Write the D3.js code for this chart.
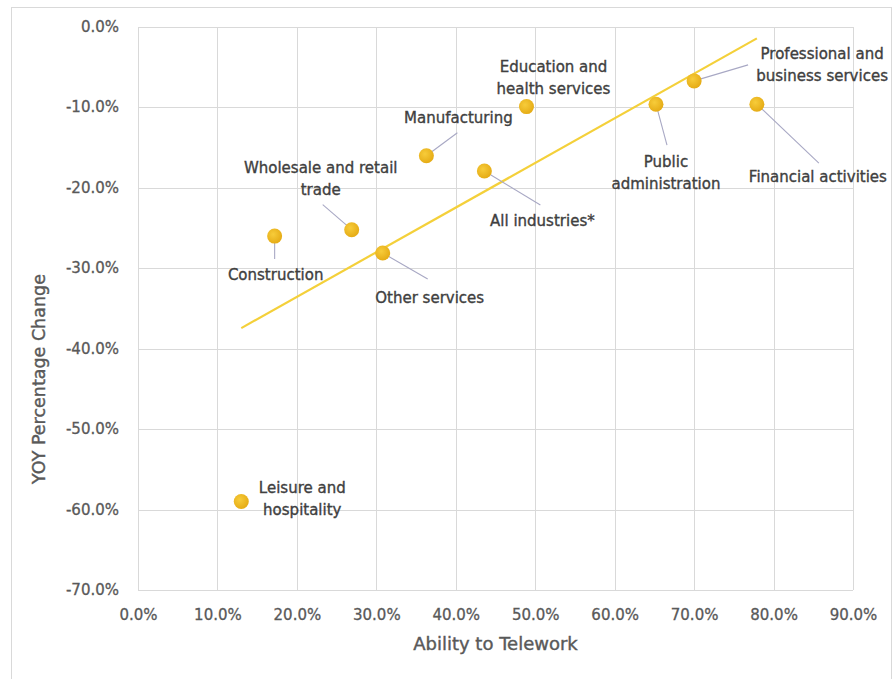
<!DOCTYPE html>
<html>
<head>
<meta charset="utf-8">
<script src="https://cdn.jsdelivr.net/npm/d3@7"></script>
<style>
  html, body { margin: 0; padding: 0; background: #ffffff; }
  svg { display: block; }
  text { font-family: "DejaVu Sans", sans-serif; }
</style>
</head>
<body>
<svg id="chart" width="895" height="679"></svg>
<script>
// Industry data: share of jobs that can be done remotely vs. year-over-year employment change
const industries = [
  "Leisure and hospitality",
  "Construction",
  "Wholesale and retail trade",
  "Other services",
  "Manufacturing",
  "All industries*",
  "Education and health services",
  "Public administration",
  "Professional and business services",
  "Financial activities"
];
const teleworkAbility = [0.130, 0.172, 0.269, 0.308, 0.363, 0.436, 0.489, 0.652, 0.700, 0.779];
const yoyChange = [-0.590, -0.260, -0.252, -0.281, -0.160, -0.179, -0.099, -0.096, -0.067, -0.096];

const xTickValues = [0, 0.1, 0.2, 0.3, 0.4, 0.5, 0.6, 0.7, 0.8, 0.9];
const yTickValues = [0, -0.1, -0.2, -0.3, -0.4, -0.5, -0.6, -0.7];

// Label placement (pixel offsets from each point) and optional leader-line end
const labelLines = [
  ["Leisure and", "hospitality"],
  ["Construction"],
  ["Wholesale and retail", "trade"],
  ["Other services"],
  ["Manufacturing"],
  ["All industries*"],
  ["Education and", "health services"],
  ["Public", "administration"],
  ["Professional and", "business services"],
  ["Financial activities"]
];
const labelOffset = [
  [61, -13], [1, 39], [-31, -61], [47, 45], [32, -37],
  [58, 51], [27, -39], [10, 58], [128, -26], [61, 73]
];
const leaderEnd = [
  null, [0, 23], [-29, -25], [45, 26], [31, -23],
  [56, 34], null, [11, 41], [54, -16], [62, 59]
];

const svg = d3.select("#chart");
const plot = { left: 138, right: 853, top: 27, bottom: 590 };

const x = d3.scaleLinear().domain([0, 0.9]).range([plot.left, plot.right]);
const y = d3.scaleLinear().domain([-0.7, 0]).range([plot.bottom, plot.top]);
// Percent labels with a plain hyphen for negatives
const pct = d => d3.format(".1%")(d).replace("\u2212", "-");

// Chart frame
svg.append("rect")
  .attr("x", 11.5).attr("y", 7.5)
  .attr("width", 880).attr("height", 690)
  .attr("fill", "#ffffff").attr("stroke", "#d9d9d9").attr("stroke-width", 1);

// Gridlines
const grid = svg.append("g").attr("class", "grid");
grid.selectAll("line.h").data(yTickValues).join("line")
  .attr("class", "h")
  .attr("x1", plot.left).attr("x2", plot.right)
  .attr("y1", d => Math.round(y(d)) + 0.5).attr("y2", d => Math.round(y(d)) + 0.5)
  .attr("stroke", "#d9d9d9").attr("stroke-width", 1);
grid.selectAll("line.v").data(xTickValues).join("line")
  .attr("class", "v")
  .attr("x1", d => Math.round(x(d)) + 0.5).attr("x2", d => Math.round(x(d)) + 0.5)
  .attr("y1", plot.top).attr("y2", plot.bottom)
  .attr("stroke", "#d9d9d9").attr("stroke-width", 1);

// Axes (labels only; domain and tick marks hidden)
const xAxis = d3.axisBottom(x).tickValues(xTickValues).tickFormat(pct).tickSize(0).tickPadding(0);
const yAxis = d3.axisLeft(y).tickValues(yTickValues).tickFormat(pct).tickSize(0).tickPadding(0);

const gx = svg.append("g").attr("transform", `translate(0,${plot.bottom})`).call(xAxis);
const gy = svg.append("g").attr("transform", `translate(${plot.left - 19},0)`).call(yAxis);
[gx, gy].forEach(g => {
  g.select(".domain").remove();
  g.selectAll("text")
    .attr("font-family", "DejaVu Sans, sans-serif")
    .attr("font-size", 15)
    .attr("fill", "#595959")
    .attr("stroke", "#595959")
    .attr("stroke-width", 0.3);
});
gx.selectAll("text").attr("dy", null).attr("y", 25).attr("dominant-baseline", "middle");
gy.selectAll("text").attr("dy", null).attr("x", 0).attr("dominant-baseline", "middle");

// Axis titles
svg.append("text")
  .attr("x", (plot.left + plot.right) / 2)
  .attr("y", 645)
  .attr("text-anchor", "middle")
  .attr("dominant-baseline", "middle")
  .attr("font-size", 18)
  .attr("fill", "#595959")
  .attr("stroke", "#595959").attr("stroke-width", 0.4)
  .text("Ability to Telework");

svg.append("text")
  .attr("transform", "translate(40,379) rotate(-90)")
  .attr("text-anchor", "middle")
  .attr("dominant-baseline", "middle")
  .attr("font-size", 17.5)
  .attr("fill", "#595959")
  .attr("stroke", "#595959").attr("stroke-width", 0.4)
  .text("YOY Percentage Change");

// Linear trendline (least squares) spanning the data range
const n = teleworkAbility.length;
const mx = d3.mean(teleworkAbility), my = d3.mean(yoyChange);
let sxy = 0, sxx = 0;
for (let i = 0; i < n; i++) {
  sxy += (teleworkAbility[i] - mx) * (yoyChange[i] - my);
  sxx += (teleworkAbility[i] - mx) ** 2;
}
const slope = sxy / sxx;
const intercept = my - slope * mx;
const [xMin, xMax] = d3.extent(teleworkAbility);
svg.append("line")
  .attr("x1", x(xMin)).attr("y1", y(intercept + slope * xMin))
  .attr("x2", x(xMax)).attr("y2", y(intercept + slope * xMax))
  .attr("stroke", "#f4d03a").attr("stroke-width", 2.2);

const points = industries.map((name, i) => ({
  name, i,
  px: x(teleworkAbility[i]),
  py: y(yoyChange[i])
}));

// Leader lines
svg.append("g").selectAll("line")
  .data(points.filter(p => leaderEnd[p.i]))
  .join("line")
  .attr("x1", p => p.px).attr("y1", p => p.py)
  .attr("x2", p => p.px + leaderEnd[p.i][0])
  .attr("y2", p => p.py + leaderEnd[p.i][1])
  .attr("stroke", "#a8a8c4").attr("stroke-width", 1.1);

// Points
const grad = svg.append("defs").append("radialGradient")
  .attr("id", "dotFill").attr("cx", "40%").attr("cy", "38%").attr("r", "60%");
grad.append("stop").attr("offset", "0%").attr("stop-color", "#f7cc3a");
grad.append("stop").attr("offset", "100%").attr("stop-color", "#e6ad17");

svg.append("g").selectAll("circle")
  .data(points)
  .join("circle")
  .attr("cx", p => p.px).attr("cy", p => p.py)
  .attr("r", 7.5)
  .attr("fill", "url(#dotFill)");

// Data labels
const lineHeight = 22;
const labels = svg.append("g").selectAll("text")
  .data(points)
  .join("text")
  .attr("text-anchor", "middle")
  .attr("font-size", 15)
  .attr("fill", "#404040")
  .attr("stroke", "#404040")
  .attr("stroke-width", 0.35)
  .attr("transform", p => `translate(${p.px + labelOffset[p.i][0]},${p.py + labelOffset[p.i][1]})`);

labels.selectAll("tspan")
  .data(p => labelLines[p.i])
  .join("tspan")
  .attr("x", 0)
  .attr("y", (d, k) => k * lineHeight)
  .attr("dominant-baseline", "middle")
  .text(d => d);
</script>
</body>
</html>
